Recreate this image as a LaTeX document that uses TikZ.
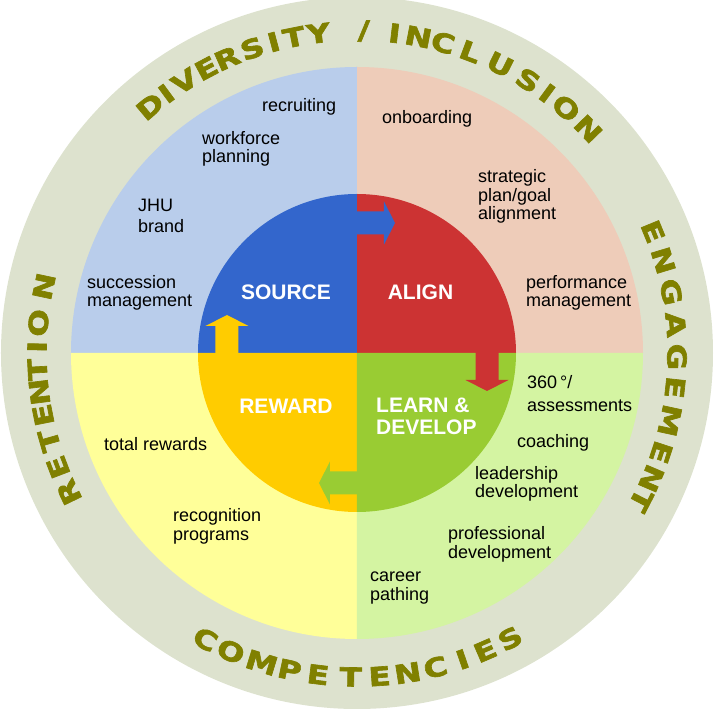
\documentclass[tikz,border=0pt]{standalone}
\usepackage{fontspec}
\setmainfont{Liberation Sans}
\newfontfamily\ringfont{DejaVu Sans}[BoldFeatures={FakeBold=2.5,FakeStretch=1.25}]
\usepackage{tikz}
\usetikzlibrary{calc}

\definecolor{ringgray}{HTML}{DDE2CE}
\definecolor{ringolive}{HTML}{808000}
\definecolor{srcpale}{HTML}{B9CDEB}
\definecolor{alnpale}{HTML}{EECCB9}
\definecolor{rwdpale}{HTML}{FFFF99}
\definecolor{lrnpale}{HTML}{D4F4A2}
\definecolor{srcblue}{HTML}{3366CC}
\definecolor{alnred}{HTML}{CC3333}
\definecolor{rwdgold}{HTML}{FFCC00}
\definecolor{lrngreen}{HTML}{99CC33}

\begin{document}
\begin{tikzpicture}[x=1pt,y=1pt,
		item/.style={anchor=base west,align=left,inner sep=0pt,font=\fontsize{18}{18.5}\selectfont},
		phase/.style={text=white,inner sep=0pt,font=\fontsize{21}{22}\selectfont\bfseries},
		ringletter/.style={text=ringolive,inner sep=0pt,font=\ringfont\bfseries\fontsize{26}{26}\selectfont}]
	\useasboundingbox (-357,-356) rectangle (358,353);
	\fill[ringgray] (0,0) circle (356pt);
	\foreach \col/\start in {alnpale/0, srcpale/90, rwdpale/180, lrnpale/270} {
		\fill[\col] (0,0) -- (\start:286) arc[start angle=\start, delta angle=90, radius=286pt] -- cycle;
	}
	\foreach \col/\start in {alnred/0, srcblue/90, rwdgold/180, lrngreen/270} {
		\fill[\col] (0,0) -- (\start:159) arc[start angle=\start, delta angle=90, radius=159pt] -- cycle;
	}
	\foreach \col/\rot in {srcblue/0, alnred/-90, lrngreen/-180, rwdgold/-270} {
		\fill[\col,rotate=\rot] (-2,118.5) -- (27,118.5) -- (27,108.5) -- (38,130) -- (27,151.5) -- (27,141.5) -- (-2,141.5) -- cycle;
	}

	\node[phase,anchor=base] (src) at (-71,53) {SOURCE};
	\node[phase,anchor=base] (aln) at (63.5,53) {ALIGN};
	\node[phase,anchor=base] (rwd) at (-71,-61) {REWARD};
	\node[phase,anchor=base west,align=left] (lrn) at (19,-82) {LEARN \&\\DEVELOP};

	\foreach \letter/\ang [count=\i] in {D/130, I/126.3, V/122.4, E/117.9, R/113.8, S/109, I/105, T/101.3, Y/96.9, {/}/88.8, I/83.3, N/79, C/74.5, L/69.4, U/63.6, S/57.9, I/53.8, O/49.5, N/44.1} {
		\node[ringletter,rotate=\ang-90] (div\i) at (\ang:322) {\letter};
	}
	\foreach \letter/\ang [count=\i] in {E/22.3, N/16.8, G/11, A/5.1, G/-0.7, E/-6.2, M/-12.2, E/-18.1, N/-23.1, T/-27.4} {
		\node[ringletter,rotate=\ang-90] (eng\i) at (\ang:320) {\letter};
	}
	\foreach \letter/\ang [count=\i] in {R/205.8, E/200.9, T/195.9, E/191.2, N/187, T/183, I/178.9, O/174.6, N/168} {
		\node[ringletter,rotate=\ang-90] (ret\i) at (\ang:320) {\letter};
	}
	\foreach \letter/\ang [count=\i] in {C/242.1, O/247.1, M/252.9, P/258, E/263.1, T/268.9, E/274, N/279, C/284, I/289, E/293.3, S/298.2} {
		\node[ringletter,rotate=\ang+90] (comp\i) at (\ang:324) {\letter};
	}

	\node[item] (recruit) at (-95,241) {recruiting};
	\node[item] (workforce) at (-155,190) {workforce\\planning};
	\node[item] (jhu) at (-219,120) {JHU\\[3pt]brand};
	\node[item] (succession) at (-270,46) {succession\\management};
	\node[item] (onboard) at (25,229) {onboarding};
	\node[item] (strategic) at (121,133) {strategic\\plan/goal\\alignment};
	\node[item] (perform) at (169,46) {performance\\management};
	\node[item] (total) at (-253,-98) {total rewards};
	\node[item] (recog) at (-184,-187) {recognition\\programs};
	\node[item] (assess) at (170,-59) {360\,°/\\[5pt]assessments};
	\node[item] (coach) at (160,-95) {coaching};
	\node[item] (leader) at (118,-145) {leadership\\development};
	\node[item] (profdev) at (91,-205) {professional\\development};
	\node[item] (career) at (13,-247) {career\\pathing};
\end{tikzpicture}
\end{document}
